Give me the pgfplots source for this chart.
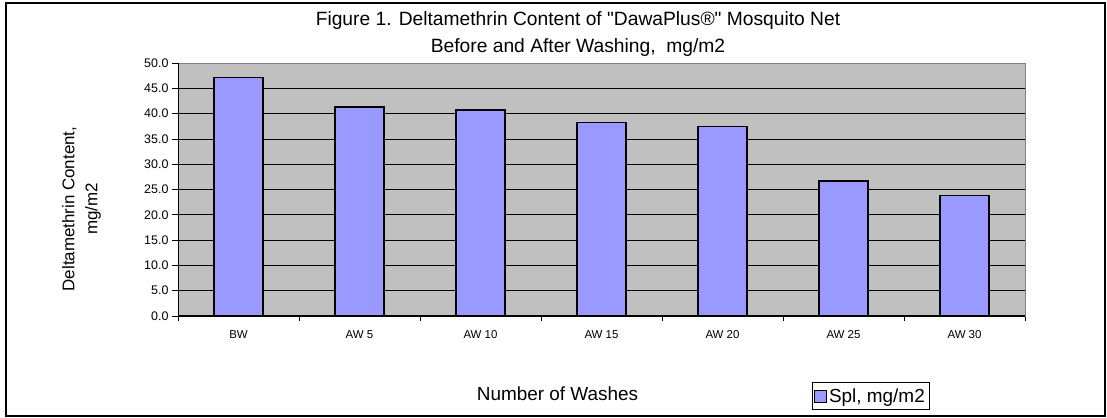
\documentclass[border=0pt]{standalone}
\usepackage{fontspec}
\setmainfont{Liberation Sans}[Ligatures=TeXOff]
\usepackage{pgfplots}
\pgfplotsset{compat=1.18}
\definecolor{barblue}{HTML}{9999FF}
\definecolor{plotgray}{HTML}{C0C0C0}
\definecolor{framegray}{HTML}{808080}
\begin{document}
\begin{tikzpicture}[x=1bp,y=1bp]
\useasboundingbox (0,0) rectangle (1107,417);
\draw[black, line width=1.2bp] (6,1) rectangle (1105,414);
\begin{axis}[
  at={(178bp,101bp)}, anchor=south west,
  scale only axis, width=847bp, height=253bp,
  xmin=-0.5, xmax=6.5, ymin=0, ymax=50,
  ybar, bar width=0.405,
  xtick={0,...,6},
  xticklabels={BW, AW 5, AW 10, AW 15, AW 20, AW 25, AW 30},
  minor xtick={-0.5,0.5,...,6.5},
  ytick={0,5,...,50},
  tick align=outside,
  major tick length=6bp, minor tick length=5bp,
  major x tick style={draw=none},
  every minor x tick/.style={black, line width=0.8bp},
  every major y tick/.style={black, line width=0.8bp},
  xtick pos=bottom, ytick pos=left,
  ymajorgrids, major grid style={black, line width=0.7bp},
  axis line style={draw=framegray, line width=1bp},
  axis background/.style={fill=plotgray},
  /pgf/number format/assume math mode=true,
  yticklabel style={font=\fontsize{12.5}{14}\selectfont,
    /pgf/number format/fixed, /pgf/number format/fixed zerofill, /pgf/number format/precision=1},
  xticklabel style={font=\fontsize{11.5}{13}\selectfont, yshift=-5bp},
  legend style={at={(0.7485,-0.262)}, anchor=north west, draw=black, line width=0.6bp,
    font=\fontsize{19}{22}\selectfont, inner xsep=2bp, inner ysep=4bp},
  legend cell align=left,
]
\addplot[fill=barblue, draw=black, line width=1.2bp,
  legend image code/.code={\draw[fill=barblue, draw=black, line width=0.8bp] (0bp,-6bp) rectangle (12bp,6bp);}]
  coordinates {(0,47.2) (1,41.3) (2,40.7) (3,38.3) (4,37.4) (5,26.7) (6,23.8)};
\addlegendentry{Spl, mg/m2}
\draw[black, line width=1.2bp] (rel axis cs:0,0) -- (rel axis cs:0,1);
\draw[black, line width=1.2bp] (rel axis cs:0,0) -- (rel axis cs:1,0);
\end{axis}
\node[anchor=base, font=\fontsize{19.3}{23}\selectfont] at (578,391) {Figure 1. Deltamethrin Content of "DawaPlus®" Mosquito Net};
\node[anchor=base, font=\fontsize{19.3}{23}\selectfont] at (578,365) {Before and After Washing,\ \ mg/m2};
\node[rotate=90, align=center, font=\fontsize{17}{23}\selectfont] at (81.5,208) {Deltamethrin Content,\\ mg/m2};
\node[anchor=base, font=\fontsize{19}{22}\selectfont] at (557.5,17) {Number of Washes};
\end{tikzpicture}
\end{document}
